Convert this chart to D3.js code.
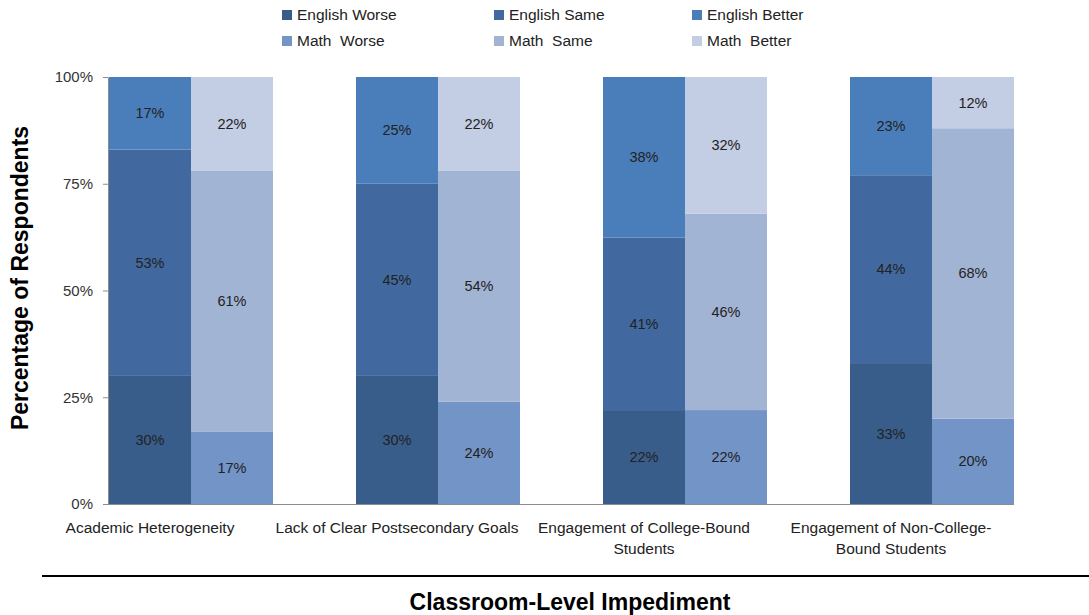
<!DOCTYPE html>
<html><head><meta charset="utf-8">
<script src="https://cdn.jsdelivr.net/npm/d3@7"></script>
<style>body{margin:0;background:#fff}</style>
</head><body>
<svg id="c" width="1089" height="615"></svg>
<script>
const categories = [["Academic Heterogeneity"],["Lack of Clear Postsecondary Goals"],["Engagement of College-Bound","Students"],["Engagement of Non-College-","Bound Students"]];
const categoryKeys = ["Academic Heterogeneity","Lack of Clear Postsecondary Goals","Engagement of College-Bound Students","Engagement of Non-College-Bound Students"];
const englishWorse = [30,30,22,33];
const englishSame = [53,45,41,44];
const englishBetter = [17,25,38,23];
const mathWorse = [17,24,22,20];
const mathSame = [61,54,46,68];
const mathBetter = [22,22,32,12];
const yTicks = [0,25,50,75,100];
const legendLabels = ["English Worse","English Same","English Better","Math  Worse","Math  Same","Math  Better"];
const colors = ["#385d8a","#41699f","#4a7ebb","#7394c6","#a2b4d4","#c3cde3"];

const svg = d3.select("#c");
const FF = "Liberation Sans, Arial, sans-serif";
const plotLeft=108, plotTop=77, plotBottom=504;
const x = d3.scaleBand().domain(categoryKeys).range([plotLeft, plotLeft+4*247]).padding(0);
const barW = 82;
const y = d3.scaleLinear().domain([0,100]).range([plotBottom, plotTop]);

const yAxis = d3.axisLeft(y).tickValues(yTicks).tickFormat(d=>d+"%").tickSize(5).tickSizeOuter(0);
const gy = svg.append("g").attr("transform",`translate(${plotLeft},0)`).call(yAxis);
gy.select(".domain").attr("stroke","#8c8c8c");
gy.selectAll(".tick line").attr("stroke","#8c8c8c");
gy.selectAll(".tick text").attr("font-family",FF).attr("font-size",15).attr("fill","#333").attr("x",-15);

const xEnd = x(categoryKeys[3]) + 2*barW;
svg.append("line").attr("x1",plotLeft).attr("x2",xEnd+1).attr("y1",plotBottom+0.5).attr("y2",plotBottom+0.5).attr("stroke","#8c8c8c");

const groups = [
  {vals:[englishWorse,englishSame,englishBetter], off:1, ci:0},
  {vals:[mathWorse,mathSame,mathBetter], off:1+barW, ci:3}
];
groups.forEach(g=>{
  categoryKeys.forEach((k,i)=>{
    const vs = g.vals.map(a=>a[i]);
    const tot = d3.sum(vs);
    let cum=0;
    vs.forEach((v,j)=>{
      const p0 = cum/tot*100, p1=(cum+v)/tot*100;
      cum+=v;
      svg.append("rect").attr("x",x(k)+g.off).attr("width",barW)
        .attr("y",y(p1)).attr("height",y(p0)-y(p1)).attr("fill",colors[g.ci+j]);
      svg.append("text").attr("x",x(k)+g.off+barW/2).attr("y",(y(p0)+y(p1))/2+5)
        .attr("text-anchor","middle").attr("font-family",FF)
        .attr("font-size",14.5).attr("fill","#222").text(v+"%");
    });
  });
});

categoryKeys.forEach((k,i)=>{
  const t = svg.append("text").attr("x",x(k)+1+barW/2).attr("y",533).attr("text-anchor","middle")
    .attr("font-family",FF).attr("font-size",15.5).attr("fill","#222");
  categories[i].forEach((ln,j)=>t.append("tspan").attr("x",x(k)+1+barW/2).attr("dy",j?21:0).text(ln));
});

svg.append("text").attr("transform","translate(28,278) rotate(-90)").attr("text-anchor","middle")
  .attr("font-family",FF).attr("font-weight","bold").attr("font-size",23).attr("fill","#000")
  .text("Percentage of Respondents");

svg.append("line").attr("x1",42).attr("x2",1089).attr("y1",576).attr("y2",576).attr("stroke","#000").attr("stroke-width",2);
svg.append("text").attr("x",570).attr("y",610).attr("text-anchor","middle")
  .attr("font-family",FF).attr("font-weight","bold").attr("font-size",23).attr("fill","#000")
  .text("Classroom-Level Impediment");

const legX = [282,494,692], legY=[15,41];
legendLabels.forEach((l,i)=>{
  const r=Math.floor(i/3), c=i%3;
  svg.append("rect").attr("x",legX[c]).attr("y",legY[r]-5).attr("width",10).attr("height",10).attr("fill",colors[i]);
  svg.append("text").attr("x",legX[c]+15).attr("y",legY[r]+5).attr("xml:space","preserve").style("white-space","pre")
    .attr("font-family",FF).attr("font-size",15.5).attr("fill","#222").text(l);
});
</script>
</body></html>
